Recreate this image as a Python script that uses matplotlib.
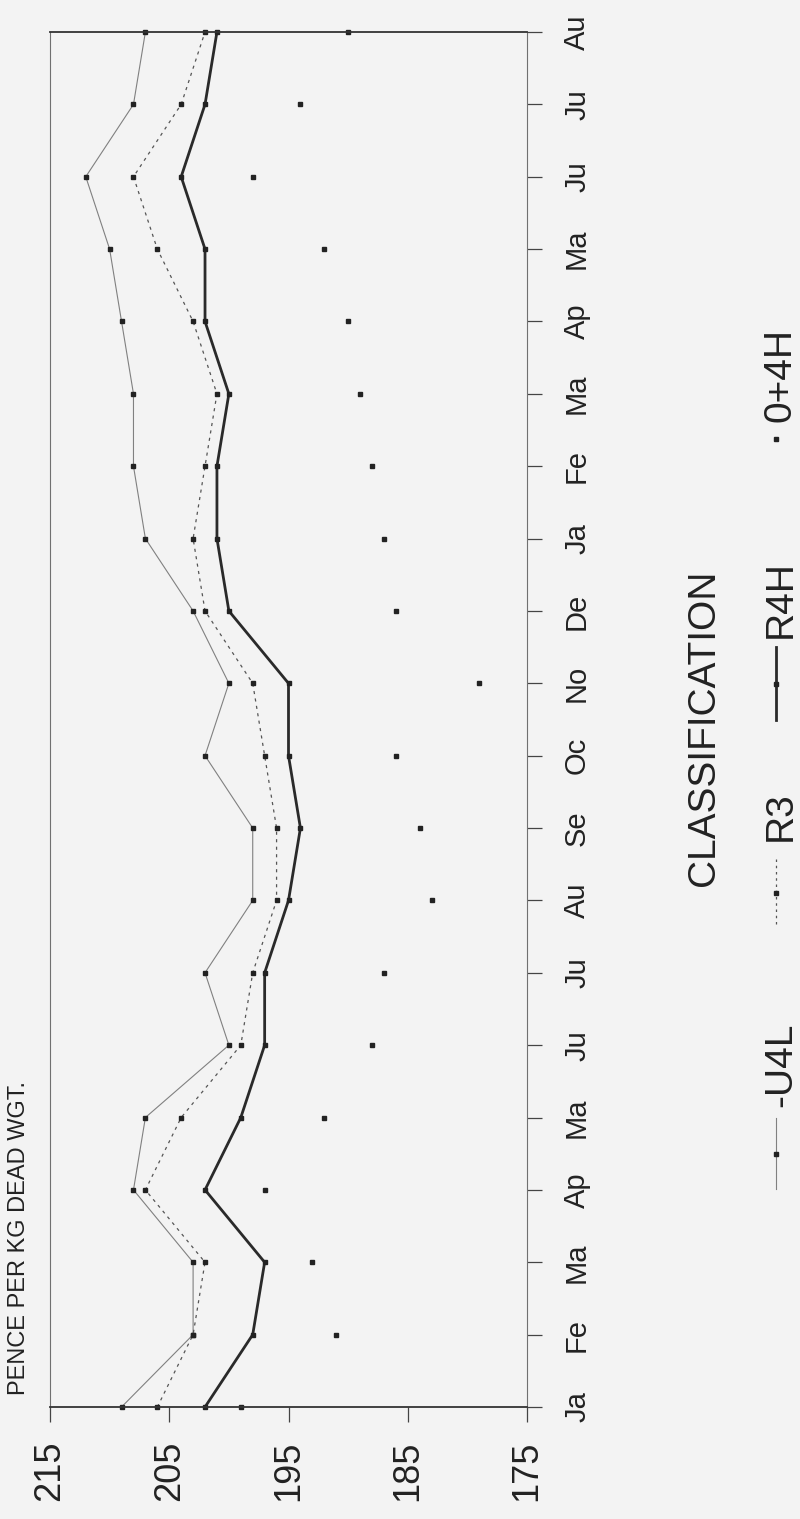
import matplotlib
matplotlib.use("Agg")
import matplotlib.pyplot as plt
from matplotlib.lines import Line2D

plt.rcParams["font.family"] = ["Liberation Sans", "DejaVu Sans"]

# monthly deadweight prices, pence per kg
MONTHS = ["Ja", "Fe", "Ma", "Ap", "Ma", "Ju", "Ju", "Au", "Se", "Oc",
          "No", "De", "Ja", "Fe", "Ma", "Ap", "Ma", "Ju", "Ju", "Au"]
U4L  = [209, 203, 203, 208, 207, 200, 202, 198, 198, 202,
        200, 203, 207, 208, 208, 209, 210, 212, 208, 207]
R3   = [206, 203, 202, 207, 204, 199, 198, 196, 196, 197,
        198, 202, 203, 202, 201, 203, 206, 208, 204, 202]
R4H  = [202, 198, 197, 202, 199, 197, 197, 195, 194, 195,
        195, 200, 201, 201, 200, 202, 202, 204, 202, 201]
O4H  = [199, 191, 193, 197, 192, 188, 187, 183, 184, 186,
        179, 186, 187, 188, 189, 190, 192, 198, 194, 190]
PRICE_TICKS = [215, 205, 195, 185, 175]

BG = "#f3f3f3"
INK = "#222222"
W, H = 800, 1519

fig = plt.figure(figsize=(W / 100, H / 100), dpi=100, facecolor=BG)
# page is printed sideways: price runs across, months run up the page
ax = fig.add_axes([50 / W, (H - 1407) / H, 477 / W, 1375 / H], facecolor=BG)

idx = list(range(len(MONTHS)))
mk = dict(marker="s", markersize=3.4, markerfacecolor=INK,
          markeredgecolor=INK, clip_on=False)

ax.plot(U4L, idx, color="#808080", lw=0.8, **mk)
ax.plot(R3, idx, color="#555555", lw=0.9, linestyle=(0, (2.5, 3.5)), **mk)
ax.plot(R4H, idx, color="#2a2a2a", lw=2.0, **mk)
ax.plot(O4H, idx, linestyle="none", **mk)

ax.set_xlim(215, 175)
ax.set_ylim(0, len(MONTHS) - 1)

ax.set_xticks(PRICE_TICKS)
ax.set_xticklabels([str(v) for v in PRICE_TICKS])
ax.tick_params(axis="x", direction="out", length=11, width=0.9,
               color="#444444", pad=13, labelsize=26, labelcolor=INK,
               labelrotation=90)

ax.set_yticks(idx)
ax.set_yticklabels(MONTHS)
ax.yaxis.tick_right()
ax.tick_params(axis="y", left=False, right=True, labelleft=False,
               labelright=True, direction="out", length=11, width=0.9,
               color="#444444", pad=15, labelsize=21, labelcolor=INK,
               labelrotation=90)
for lab in ax.get_yticklabels():
    lab.set_verticalalignment("center")

for side in ["left", "right"]:
    ax.spines[side].set_color("#707070")
    ax.spines[side].set_linewidth(0.8)
for side in ["top", "bottom"]:
    ax.spines[side].set_color("#333333")
    ax.spines[side].set_linewidth(1.3)

fig.text(19 / W, (H - 1395) / H, "PENCE PER KG DEAD WGT.", rotation=90,
         ha="center", va="bottom", fontsize=17, color=INK)

# hand-built legend, rotated with the page
fig.text(704 / W, (H - 886) / H, "CLASSIFICATION", rotation=90,
         ha="center", va="bottom", fontsize=28, color=INK)

legend_items = [
    ("-U4L", dict(color="#808080", lw=0.8), 1118, 1189, 1107),
    ("R3", dict(color="#555555", lw=0.9, linestyle=(0, (2, 3))), 859, 926, 841),
    ("R4H", dict(color="#2a2a2a", lw=2.0), 647, 720, 638),
    ("0+4H", dict(linestyle="none"), 439, 439, 422),
]
lx = 776 / W
for label, style, y0, y1, ty in legend_items:
    fig.add_artist(Line2D([lx, lx], [(H - y0) / H, (H - y1) / H],
                          transform=fig.transFigure, **style))
    ym = (H - (y0 + y1) / 2) / H
    fig.add_artist(Line2D([lx], [ym], transform=fig.transFigure,
                          linestyle="none", marker="s", markersize=3.4,
                          markerfacecolor=INK, markeredgecolor=INK))
    fig.text(781 / W, (H - ty) / H, label, rotation=90, ha="center",
             va="bottom", fontsize=28, color=INK)

fig.savefig("out.png", dpi=100, facecolor=BG)
